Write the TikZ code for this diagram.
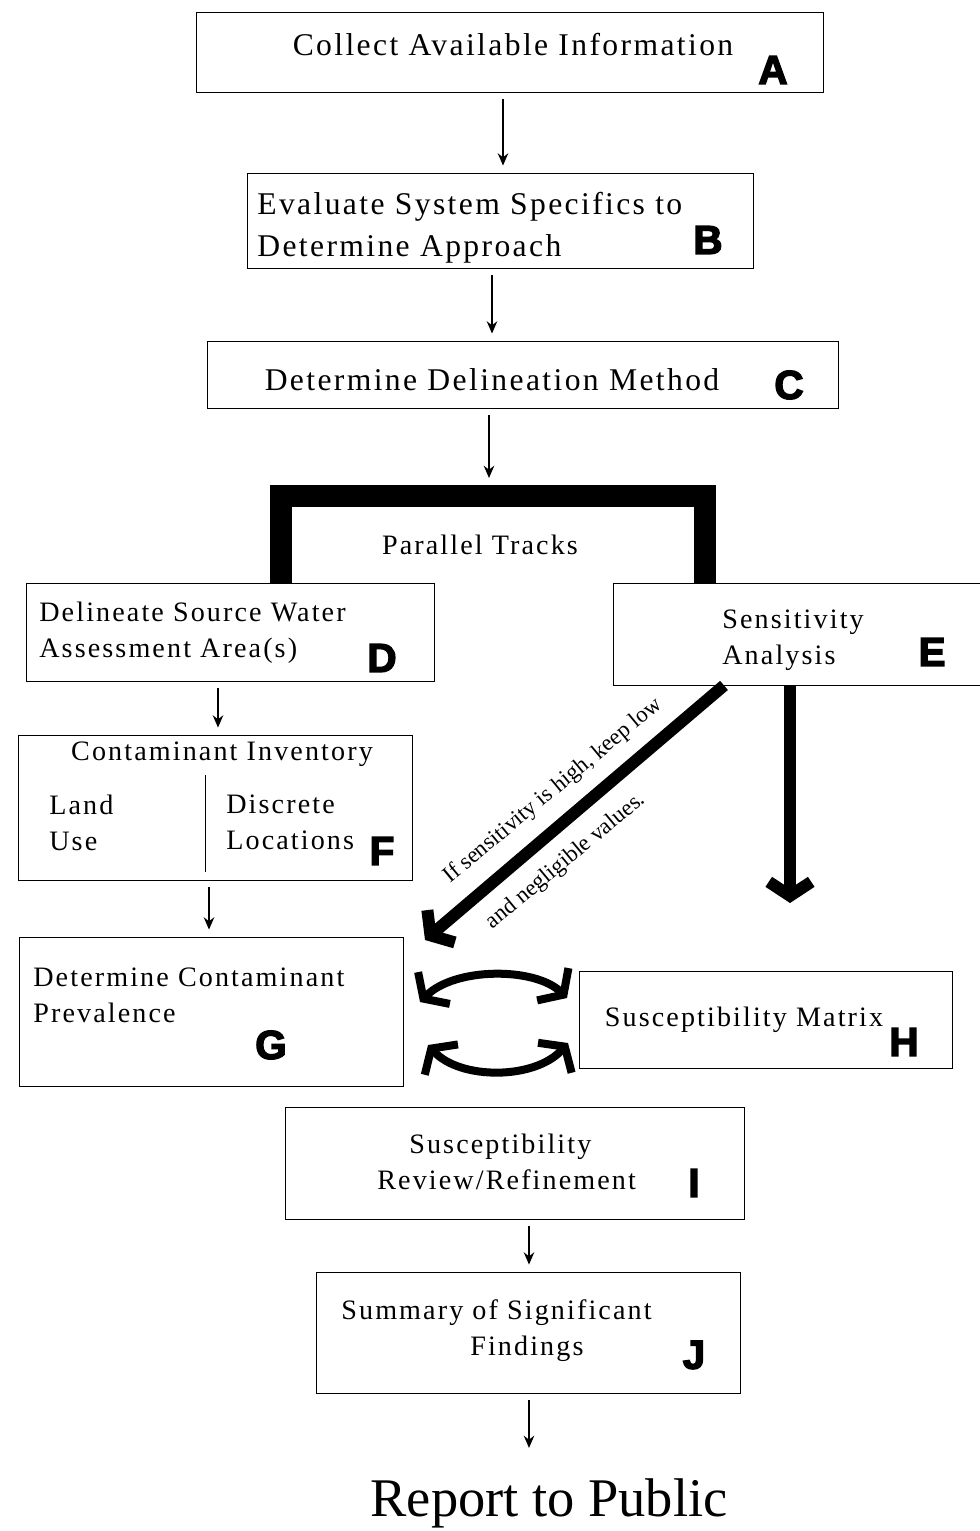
\documentclass[tikz,border=0pt]{standalone}
\usepackage{fontspec}
\setmainfont{Liberation Serif}[LetterSpace=7.5]
\newfontfamily\plainserif{Liberation Serif}
\newfontfamily\tagfont{Liberation Sans}[BoldFeatures={FakeBold=3.5}]
\usetikzlibrary{arrows.meta,fit,positioning}

\begin{document}
\begin{tikzpicture}[x=0.02cm, y=-0.02cm,
    box/.style={draw, inner sep=0pt, line width=0.5pt},
    big/.style={inner sep=0pt, align=left, font=\fontsize{18}{24}\selectfont},
    mid/.style={inner sep=0pt, align=left, font=\fontsize{16}{20.4}\selectfont},
    note/.style={inner sep=0pt, font=\plainserif\fontsize{13}{15}\selectfont},
    tag/.style={inner sep=0pt, font=\tagfont\bfseries\fontsize{23}{23}\selectfont},
    arr/.style={-{Stealth[length=7pt,width=6pt]}, line width=0.8pt, shorten <=0.14cm, shorten >=0.14cm},
    fat/.style={line width=0.24cm, -{Straight Barb[length=0.28cm,width=0.85cm]}},
    swap/.style={line width=0.16cm, {Straight Barb[length=0.3cm,width=0.9cm]}-{Straight Barb[length=0.3cm,width=0.9cm]}}]
    \useasboundingbox (0,0) rectangle (980,1531);

    \node[box, fit={(196,12) (823,92)}] (A) {};
    \node[big] (tA) at (513,45) {Collect Available Information};
    \node[tag] (lA) at (773,70) {A};

    \node[box, fit={(247,173) (753,268)}] (B) {};
    \node[big, anchor=west] (tB) at (257,228) {Evaluate System Specifics to\\Determine Approach};
    \node[tag] (lB) at (708,240) {B};

    \node[box, fit={(207,341) (838,408)}] (C) {};
    \node[big] (tC) at (492,380) {Determine Delineation Method};
    \node[tag] (lC) at (789,385) {C};

    \coordinate (ab) at (503,0);
    \coordinate (bc) at (492,0);
    \draw[arr] (ab |- A.south) -- (ab |- B.north);
    \draw[arr] (bc |- B.south) -- (bc |- C.north);

    \node[box, fit={(26,583) (434,681)}] (D) {};
    \node[mid, anchor=west] (tD) at (39,633) {Delineate Source Water\\Assessment Area(s)};
    \node[tag] (lD) at (382,658) {D};

    \node[box, fit={(613,583) (985,685)}] (E) {};
    \node[mid, anchor=west] (tE) at (722,640) {Sensitivity\\Analysis};
    \node[tag] (lE) at (932,652) {E};

    \coordinate (pl) at (281,583);
    \coordinate (pr) at (705,583);
    \draw[line width=0.44cm] (pl) |- (705,496) -- (pr);
    \coordinate (ptop) at (489,485);
    \draw[arr] (C.south -| ptop) -- (ptop);
    \node[mid] (track) at (480,545) {Parallel Tracks};

    \node[box, fit={(18,735) (412,880)}] (F) {};
    \node[mid] (tF) at (222,754) {Contaminant Inventory};
    \node[mid, anchor=west] (tLand) at (49,823) {Land\\Use};
    \node[mid, anchor=west] (tDisc) at (226,822) {Discrete\\Locations};
    \draw[line width=0.5pt] (205,775) -- (205,872);
    \node[tag] (lF) at (382,851) {F};

    \coordinate (df) at (218,0);
    \draw[arr] (df |- D.south) -- (df |- F.north);

    \node[box, fit={(19,937) (403,1086)}] (G) {};
    \node[mid, anchor=west] (tG) at (33,995) {Determine Contaminant\\Prevalence};
    \node[tag] (lG) at (271,1045) {G};

    \coordinate (fg) at (209,0);
    \draw[arr] (fg |- F.south) -- (fg |- G.north);

    \node[box, fit={(579,971) (952,1068)}] (H) {};
    \node[mid] (tH) at (744,1020) {Susceptibility Matrix};
    \node[tag] (lH) at (904,1042) {H};

    \coordinate (hEnd) at (790,903);
    \draw[fat] (E.south -| hEnd) -- (hEnd);
    \coordinate (gEnd) at (425,940);
    \draw[fat] ([xshift=-1.5cm]E.south) -- (gEnd);
    \node[note, rotate=39.7] (cond1) at (553,791) {If sensitivity is high, keep low};
    \node[note, rotate=39.7] (cond2) at (566,861) {and negligible values.};

    \coordinate (cUL) at (420,1002);
    \coordinate (cUR) at (567,998);
    \coordinate (cLL) at (428,1045);
    \coordinate (cLR) at (568,1043);
    \draw[swap] (cUL) .. controls (455,967) and (535,967) .. (cUR);
    \draw[swap] (cLL) .. controls (460,1080) and (535,1080) .. (cLR);

    \node[box, fit={(285,1107) (744,1219)}] (I) {};
    \node[mid, anchor=west] (tI) at (377,1162) {\hspace{0.64cm}Susceptibility\\Review/Refinement};
    \node[tag] (lI) at (694,1183) {I};

    \node[box, fit={(316,1272) (740,1393)}] (J) {};
    \node[mid, anchor=west] (tJ) at (341,1331) {Summary of Significant\\\hspace{2.58cm}Findings};
    \node[tag] (lJ) at (694,1355) {J};

    \coordinate (ij) at (529,0);
    \draw[arr] (ij |- I.south) -- (ij |- J.north);

    \node[inner sep=0pt, font=\plainserif\fontsize{31}{36}\selectfont] (report) at (549,1503) {Report to Public};
    \draw[arr, shorten >=0.6cm] (ij |- J.south) -- (ij |- report.north);
\end{tikzpicture}
\end{document}
